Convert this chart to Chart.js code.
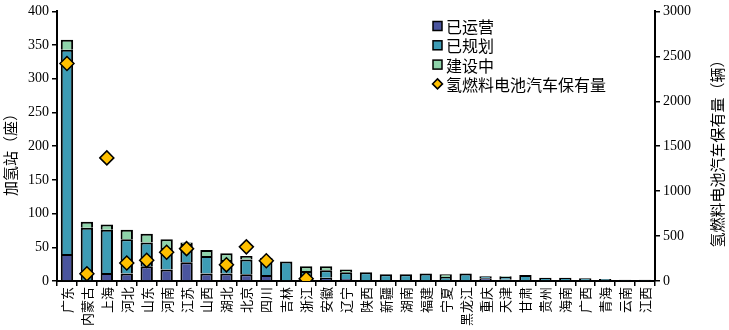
<!DOCTYPE html>
<html>
<head>
<meta charset="utf-8">
<script src="https://cdn.jsdelivr.net/npm/chart.js@4"></script>
<style>
html,body{margin:0;padding:0;background:#fff;}
#wrap{width:729px;height:330px;position:relative;}
</style>
</head>
<body>
<div id="wrap"><canvas id="c" width="729" height="330"></canvas></div>
<script>
const categories = ['广东','内蒙古','上海','河北','山东','河南','江苏','山西','湖北','北京','四川','吉林','浙江','安徽','辽宁','陕西','新疆','湖南','福建','宁夏','黑龙江','重庆','天津','甘肃','贵州','海南','广西','青海','云南','江西'];
const operating = [40,0,12,11,22,17,28,11,11,10,9,0,5,5,3,0,0,0,0,0,0,4,2,0,0,0,0,0,0,0];
const planned   = [303,79,64,51,35,32,27,26,20,22,23,29,10,11,10,13,10,10,11,6,11,3,4,9,5,5,4,3,2,2];
const building  = [15,9,8,14,13,13,2,9,10,5,2,0,7,6,4,0,0,0,0,4,0,0,1,0,0,0,0,0,0,0];
const vehicles  = [2420,80,1370,200,230,320,360,null,180,380,225,null,25,null,null,null,null,null,null,null,null,null,null,null,null,null,null,null,null,null];
const leftTicks = [0,50,100,150,200,250,300,350,400];
const rightTicks = [0,500,1000,1500,2000,2500,3000];
const seriesNames = ['已运营','已规划','建设中','氢燃料电池汽车保有量'];
const leftTitle = '加氢站（座）';
const rightTitle = '氢燃料电池汽车保有量（辆）';

const numFont = {family:'"Liberation Serif","Times New Roman",serif', size:14};
const cjk = '"Noto Sans CJK SC","Noto Sans",sans-serif';
const z = v => v === 0 ? null : v;

const overlay = {
  id:'overlay',
  afterDraw(chart){
    const ctx = chart.ctx;
    ctx.save();
    ctx.fillStyle = '#000';
    ctx.font = '15px ' + cjk;
    ctx.textAlign = 'center';
    ctx.textBaseline = 'middle';
    ctx.save();
    ctx.translate(10, 151);
    ctx.rotate(-Math.PI/2);
    ctx.fillText(leftTitle, 0, 0);
    ctx.restore();
    ctx.save();
    ctx.translate(717, 150);
    ctx.rotate(-Math.PI/2);
    ctx.fillText(rightTitle, 0, 0);
    ctx.restore();
    const ds = chart.data.datasets;
    const x0 = 433, y0 = 26, step = 19.3;
    ctx.font = '16px ' + cjk;
    ctx.textAlign = 'left';
    ds.forEach((d,i) => {
      const y = y0 + i*step;
      if (d.type === 'line') {
        ctx.beginPath();
        ctx.moveTo(x0+4.5, y-5); ctx.lineTo(x0+9.5, y); ctx.lineTo(x0+4.5, y+5); ctx.lineTo(x0-0.5, y); ctx.closePath();
        ctx.fillStyle = d.pointBackgroundColor; ctx.fill();
        ctx.lineWidth = 1.5; ctx.strokeStyle = '#000'; ctx.stroke();
      } else {
        ctx.fillStyle = d.backgroundColor;
        ctx.fillRect(x0, y-4.5, 9, 9);
        ctx.lineWidth = 1.5; ctx.strokeStyle = '#000';
        ctx.strokeRect(x0, y-4.5, 9, 9);
      }
      ctx.fillStyle = '#000';
      ctx.fillText(d.label, x0+13, y+1);
    });
    ctx.restore();
  }
};

new Chart(document.getElementById('c'), {
  data: {
    labels: categories,
    datasets: [
      {type:'bar', label:seriesNames[0], data:operating.map(z), backgroundColor:'#4A559E', borderColor:'#000', borderWidth:2, yAxisID:'y', order:2, barPercentage:0.62, categoryPercentage:1},
      {type:'bar', label:seriesNames[1], data:planned.map(z), backgroundColor:'#3D9CB5', borderColor:'#000', borderWidth:2, yAxisID:'y', order:2, barPercentage:0.62, categoryPercentage:1},
      {type:'bar', label:seriesNames[2], data:building.map(z), backgroundColor:'#8ED3AA', borderColor:'#000', borderWidth:2, yAxisID:'y', order:2, barPercentage:0.62, categoryPercentage:1},
      {type:'line', label:seriesNames[3], data:vehicles, showLine:false, yAxisID:'y1', order:1, pointStyle:'rectRot', pointRadius:7, pointHoverRadius:7, pointBackgroundColor:'#FFC000', pointBorderColor:'#000', pointBorderWidth:1.5}
    ]
  },
  options: {
    responsive:false,
    animation:false,
    events:[],
    layout:{padding:{top:11,left:0,right:0,bottom:0}},
    plugins:{legend:{display:false}, tooltip:{enabled:false}},
    scales:{
      x:{
        stacked:true,
        offset:true,
        grid:{offset:true, drawOnChartArea:false, drawTicks:true, tickLength:5, color:'#000', lineWidth:1.5},
        border:{display:true, color:'#000', width:2},
        ticks:{autoSkip:false, maxRotation:90, minRotation:90, color:'#000', font:{family:cjk, size:13}, padding:1},
        afterFit(s){ s.height = 49; }
      },
      y:{
        stacked:true, position:'left', min:0, max:400,
        afterBuildTicks(s){ s.ticks = leftTicks.map(v=>({value:v})); },
        grid:{drawOnChartArea:false, drawTicks:true, tickLength:5, color:'#000', lineWidth:1.5},
        border:{display:true, color:'#000', width:2},
        ticks:{color:'#000', font:numFont, padding:3, callback:v=>String(v)},
        afterFit(s){ s.width = 57; }
      },
      y1:{
        position:'right', min:0, max:3000,
        afterBuildTicks(s){ s.ticks = rightTicks.map(v=>({value:v})); },
        grid:{drawOnChartArea:false, drawTicks:true, tickLength:5, color:'#000', lineWidth:1.5},
        border:{display:true, color:'#000', width:2},
        ticks:{color:'#000', font:numFont, padding:3, callback:v=>String(v)},
        afterFit(s){ s.width = 74; }
      }
    }
  },
  plugins:[overlay]
});
</script>
</body>
</html>
